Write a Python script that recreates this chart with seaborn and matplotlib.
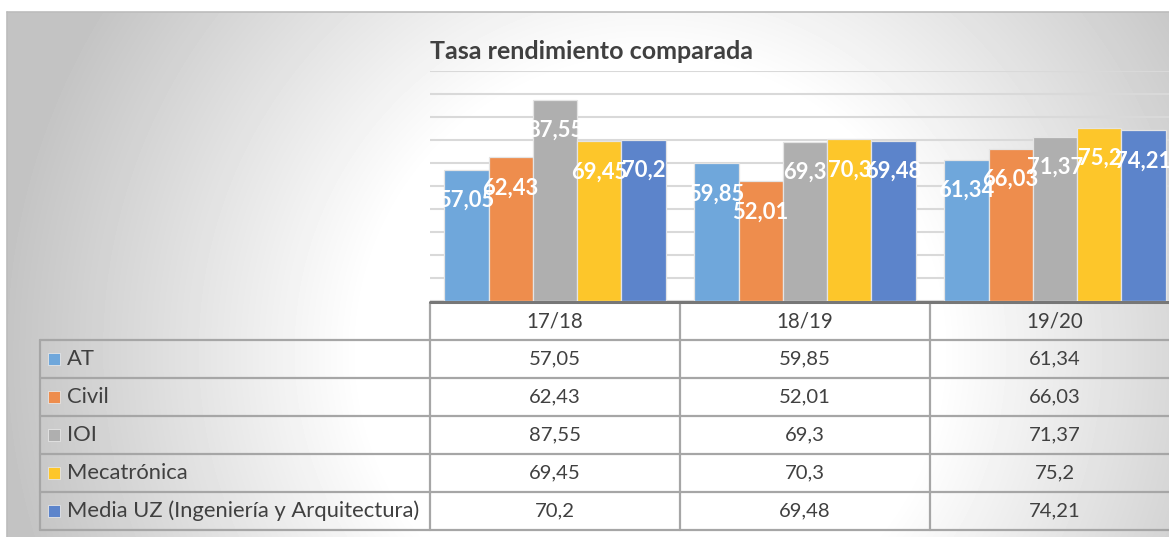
import numpy as np
import pandas as pd
import matplotlib
matplotlib.use("Agg")
import matplotlib.pyplot as plt
from matplotlib.patches import Rectangle
import seaborn as sns

cursos = ["17/18", "18/19", "19/20"]
titulaciones = ["AT", "Civil", "IOI", "Mecatrónica",
                "Media UZ (Ingeniería y Arquitectura)"]
at = [57.05, 59.85, 61.34]
civil = [62.43, 52.01, 66.03]
ioi = [87.55, 69.3, 71.37]
meca = [69.45, 70.3, 75.2]
media = [70.2, 69.48, 74.21]
series = [at, civil, ioi, meca, media]
colores = ["#6FA7DB", "#EE8D4D", "#AFAFAF", "#FDC62A", "#5C84CB"]

df = pd.DataFrame({
    "curso": np.tile(cursos, len(titulaciones)),
    "titulacion": np.repeat(titulaciones, len(cursos)),
    "tasa": np.concatenate(series),
})

sns.set_style("white")
plt.rcParams["font.family"] = ["Lato", "DejaVu Sans"]

W, H = 1169, 537
fig = plt.figure(figsize=(W / 100, H / 100), dpi=100)

# background + data table, drawn in pixel coordinates
bg = fig.add_axes([0, 0, 1, 1])
bg.set_xlim(0, W)
bg.set_ylim(H, 0)
bg.axis("off")
yy, xx = np.mgrid[12:H, 7:W]
r = np.hypot(xx - 650, yy - 350)
grad = 1 - 0.235 * np.clip((r - 290) / 360.0, 0, 1)
bg.imshow(grad, extent=(7, W, H, 12), cmap="gray", vmin=0, vmax=1,
          aspect="auto", interpolation="bilinear")
bg.plot([7, W], [12, 12], color="#bcbcbc", lw=1.2)
bg.plot([7, 7], [12, H], color="#bcbcbc", lw=1.2)

plot_l, cat_w = 430, 250
top_y, base_y = 71, 301
row_y = [303, 340, 378, 416, 454, 492, 530]
grid_c = "#a6a6a6"
txt_c = "#404040"

for y in row_y[1:]:
    bg.plot([40, W], [y, y], color=grid_c, lw=1.6)
bg.plot([40, 40], [row_y[1], row_y[-1]], color=grid_c, lw=1.6)
for i in range(len(cursos) + 1):
    x = plot_l + i * cat_w
    bg.plot([x, x], [row_y[0], row_y[-1]], color=grid_c, lw=1.6)
bg.plot([plot_l, W], [302, 302], color="#777777", lw=2.2)

for i, c in enumerate(cursos):
    bg.text(plot_l + (i + 0.5) * cat_w, (row_y[0] + row_y[1]) / 2, c,
            ha="center", va="center", fontsize=14.8, color=txt_c)
for j, (name, vals) in enumerate(zip(titulaciones, series)):
    yc = (row_y[j + 1] + row_y[j + 2]) / 2
    bg.add_patch(Rectangle((48, yc - 6), 12, 12, facecolor=colores[j],
                           edgecolor="#e6e6e6", lw=0.6))
    bg.text(67, yc, name, ha="left", va="center", fontsize=15.8, color=txt_c)
    for i, v in enumerate(vals):
        bg.text(plot_l + (i + 0.5) * cat_w, yc, f"{v:g}".replace(".", ","),
                ha="center", va="center", fontsize=14.6, color=txt_c)

bg.text(plot_l, 59, "Tasa rendimiento comparada", ha="left", va="baseline",
        fontsize=18, fontweight="bold", color=txt_c)

# bar chart
ax = fig.add_axes([plot_l / W, (H - base_y) / H,
                   len(cursos) * cat_w / W, (base_y - top_y) / H])
ax.patch.set_alpha(0)
sns.barplot(data=df, x="curso", y="tasa", hue="titulacion",
            hue_order=titulaciones, palette=colores, saturation=1,
            width=0.886, edgecolor="#e4e4e4", linewidth=0.9,
            legend=False, ax=ax)
ax.set_xlim(-0.5, len(cursos) - 0.5)
ax.set_ylim(0, 100)
ax.set_yticks(range(0, 101, 10))
ax.set_axisbelow(True)
ax.yaxis.grid(True, color="#d9d9d9", lw=1.5)
ax.set_xticks([])
ax.set_yticklabels([])
ax.tick_params(left=False, bottom=False)
ax.set_xlabel("")
ax.set_ylabel("")
sns.despine(ax=ax, left=True, bottom=True)

for cont, vals in zip(ax.containers, series):
    ax.bar_label(cont, labels=[f"{v:g}".replace(".", ",") for v in vals],
                 padding=-29.5, color="white", fontsize=15.8, fontweight="bold")

fig.savefig("out.png", dpi=100)
